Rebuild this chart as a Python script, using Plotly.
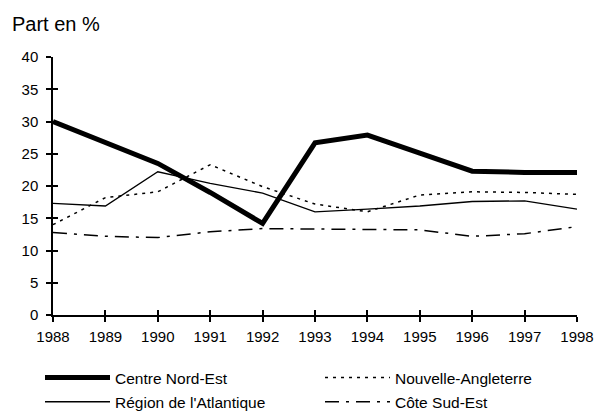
import plotly.graph_objects as go

years = [1988, 1989, 1990, 1991, 1992, 1993, 1994, 1995, 1996, 1997, 1998]
centre_nord_est = [30.0, 26.7, 23.5, 19.0, 14.2, 26.7, 27.9, 25.1, 22.3, 22.1, 22.1]
nouvelle_angleterre = [14.0, 18.2, 19.1, 23.3, 19.9, 17.2, 16.0, 18.6, 19.1, 19.0, 18.7]
region_atlantique = [17.3, 16.9, 22.2, 20.4, 18.9, 16.0, 16.4, 16.9, 17.6, 17.7, 16.4]
cote_sud_est = [12.8, 12.2, 12.0, 12.9, 13.4, 13.3, 13.3, 13.2, 12.2, 12.6, 13.7]
y_ticks = [0, 5, 10, 15, 20, 25, 30, 35, 40]

FONT = "Liberation Sans, Arial, sans-serif"

fig = go.Figure()
fig.add_trace(go.Scatter(x=years, y=centre_nord_est, mode="lines", name="Centre Nord-Est",
                         line=dict(color="black", width=5),
                         legend="legend", legendgroup="a"))
fig.add_trace(go.Scatter(x=years, y=nouvelle_angleterre, mode="lines", name="Nouvelle-Angleterre",
                         line=dict(color="black", width=1.5, dash="3px,5px"),
                         legend="legend2", legendgroup="b"))
fig.add_trace(go.Scatter(x=years, y=region_atlantique, mode="lines", name="Région de l'Atlantique",
                         line=dict(color="black", width=1.3), xaxis="x2", yaxis="y2",
                         legend="legend", legendgroup="c"))
fig.add_trace(go.Scatter(x=years, y=cote_sud_est, mode="lines", name="Côte Sud-Est",
                         line=dict(color="black", width=1.5, dash="14px,7px,3px,7px"),
                         legend="legend2", legendgroup="d"))

common_x = dict(range=[1988, 1998], tickvals=years, showgrid=False, zeroline=False,
                showline=True, linecolor="black", linewidth=1.5, ticklen=5,
                tickwidth=1.5, tickcolor="black", automargin=False)
common_y = dict(range=[0, 40], tickvals=y_ticks, showgrid=False, zeroline=False,
                showline=True, linecolor="black", linewidth=1.5, ticklen=5,
                tickwidth=1.5, tickcolor="black", automargin=False)

legend_common = dict(orientation="v", xref="container", yref="container",
                     xanchor="left", y=1-361/413, yanchor="top",
                     tracegroupgap=1, itemwidth=65,
                     font=dict(family=FONT, size=15.5, color="black"),
                     bgcolor="rgba(0,0,0,0)")

fig.update_layout(
    width=595, height=413,
    margin=dict(l=53, r=18, t=57, b=98, autoexpand=False),
    paper_bgcolor="white", plot_bgcolor="white",
    font=dict(family=FONT, size=15, color="black"),
    title=dict(text="Part en %", x=12/595, xanchor="left", xref="container",
               y=1-24/413, yanchor="middle", yref="container",
               font=dict(family=FONT, size=20, color="black")),
    xaxis=dict(**common_x, ticks="outside", ticklabelstandoff=2,
               tickfont=dict(family=FONT, size=15, color="black")),
    yaxis=dict(**common_y, ticks="outside", ticklabelstandoff=5,
               tickfont=dict(family=FONT, size=15, color="black")),
    xaxis2=dict(**common_x, ticks="inside", showticklabels=False,
                overlaying="x", anchor="y2"),
    yaxis2=dict(**common_y, ticks="inside", showticklabels=False,
                overlaying="y", anchor="x2"),
    showlegend=True,
    legend=dict(**legend_common, x=40/595),
    legend2=dict(**legend_common, x=320/595),
)

fig.write_html("out.html",
               config={"displayModeBar": False},
               post_script="document.body.style.margin='0';document.body.style.padding='0';")
